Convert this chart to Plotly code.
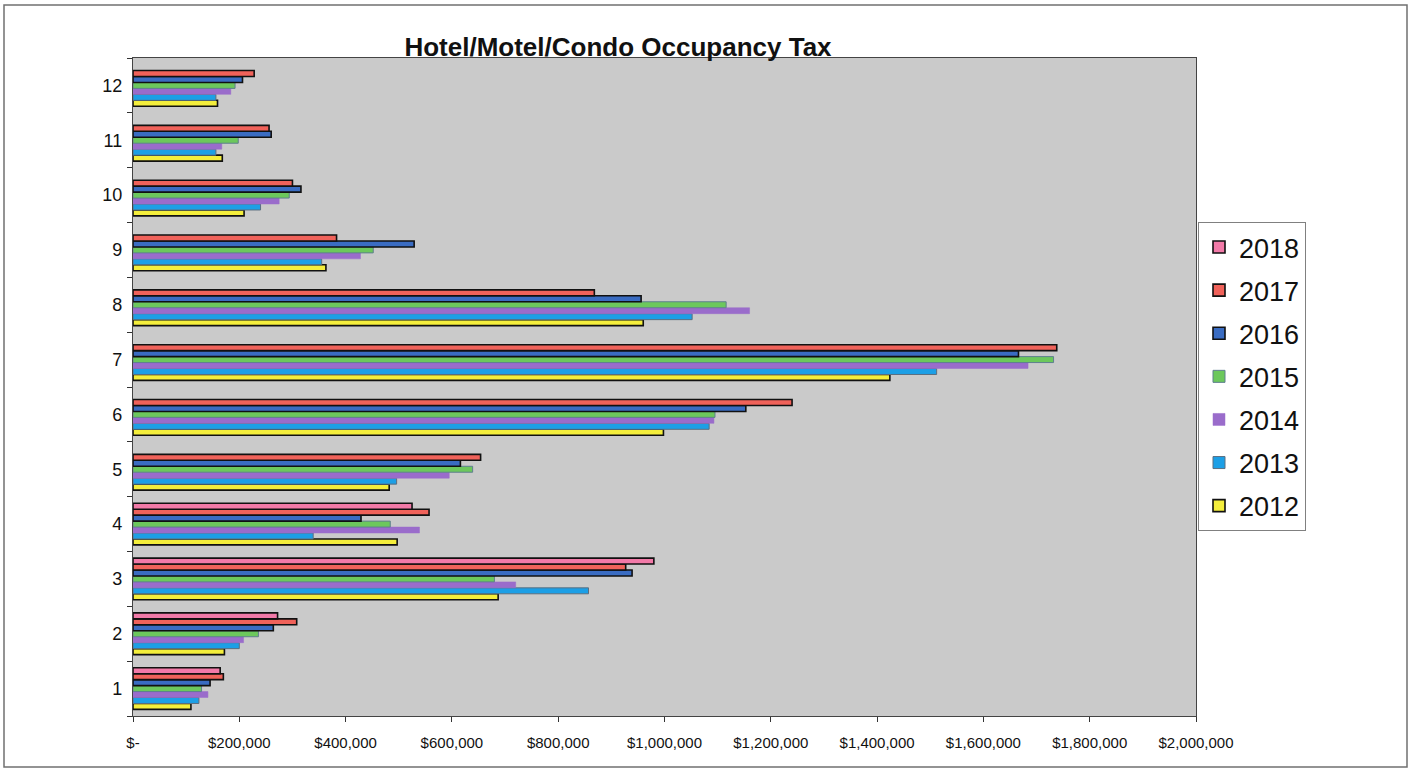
import plotly.graph_objects as go

months = ["1", "2", "3", "4", "5", "6", "7", "8", "9", "10", "11", "12"]

y2012 = [109000, 172000, 687000, 497000, 482000, 998000, 1424000, 960000, 363000, 209000, 168000, 159000]
y2013 = [124000, 200000, 857000, 339000, 496000, 1084000, 1512000, 1052000, 355000, 240000, 156000, 156000]
y2014 = [141000, 208000, 720000, 539000, 595000, 1093000, 1684000, 1160000, 428000, 275000, 167000, 184000]
y2015 = [129000, 236000, 680000, 484000, 639000, 1095000, 1732000, 1116000, 452000, 294000, 198000, 192000]
y2016 = [145000, 264000, 939000, 429000, 616000, 1153000, 1666000, 956000, 529000, 316000, 260000, 206000]
y2017 = [170000, 308000, 927000, 557000, 654000, 1240000, 1738000, 868000, 383000, 300000, 256000, 228000]
y2018 = [164000, 272000, 980000, 525000, None, None, None, None, None, None, None, None]

x_tickvals = [0, 200000, 400000, 600000, 800000, 1000000, 1200000, 1400000, 1600000, 1800000, 2000000]
x_ticktext = ["$-", "$200,000", "$400,000", "$600,000", "$800,000", "$1,000,000",
              "$1,200,000", "$1,400,000", "$1,600,000", "$1,800,000", "$2,000,000"]

series = [
    ("2012", y2012, "#f4ee3c", "#111111", 1.6),
    ("2013", y2013, "#1c9fe6", "#5b6f80", 1.0),
    ("2014", y2014, "#9a6ccb", "#9a6ccb", 0.5),
    ("2015", y2015, "#6cc85c", "#5f7f8f", 1.0),
    ("2016", y2016, "#3a6cc2", "#111111", 1.6),
    ("2017", y2017, "#f0625a", "#111111", 1.6),
    ("2018", y2018, "#f27aa8", "#111111", 1.6),
]

fig = go.Figure()
n = len(series)
for i, (name, vals, col, lcol, lw) in enumerate(series):
    fig.add_trace(go.Bar(
        y=months, x=vals, name=name, orientation="h",
        legendgroup=name,
        legendrank=n - i,
        marker=dict(color=col, line=dict(color=lcol, width=lw)),
    ))

L, R, T, B = 133, 215, 58, 56
W, H = 1411, 772
pw = W - L - R
ph = H - T - B

fig.update_layout(
    width=W, height=H,
    margin=dict(l=L, r=R, t=T, b=B),
    paper_bgcolor="white",
    plot_bgcolor="#cacaca",
    barmode="group",
    bargap=0.24,
    bargroupgap=0,
    font=dict(family="Liberation Sans, Arial, sans-serif", color="#111111"),
    title=dict(
        text="<b>Hotel/Motel/Condo Occupancy Tax</b>",
        x=(618 - L) / pw, xref="paper", xanchor="center",
        y=1 - 47 / H, yref="container", yanchor="middle",
        font=dict(size=26, color="#111111"),
    ),
    legend=dict(
        x=(1198 - L) / pw, xanchor="left",
        y=(H - B - 222) / ph, yanchor="top",
        traceorder="grouped",
        tracegroupgap=5,
        bgcolor="white",
        bordercolor="#808080", borderwidth=1,
        font=dict(size=27, color="#111111"),
        itemwidth=30,
    ),
    showlegend=True,
    xaxis=dict(
        range=[0, 2000000],
        tickvals=x_tickvals, ticktext=x_ticktext,
        ticks="outside", ticklen=5, tickcolor="#333333",
        showgrid=False, zeroline=False,
        showline=True, linecolor="#444444", linewidth=1.2, mirror=True,
        tickfont=dict(size=15, family="Liberation Sans Narrow, Arial Narrow, Liberation Sans, Arial"),
        ticklabelstandoff=8,
    ),
    yaxis=dict(
        type="category",
        categoryorder="array", categoryarray=months,
        ticks="outside", ticklen=5, tickcolor="#333333",
        tickson="boundaries",
        showgrid=False, zeroline=False,
        showline=True, linecolor="#444444", linewidth=1.2, mirror=True,
        tickfont=dict(size=18),
        ticklabelstandoff=6,
    ),
)

# outer chart border
fig.add_shape(
    type="rect", xref="paper", yref="paper",
    x0=(4 - L) / pw, x1=(1407 - L) / pw,
    y0=(H - B - 767) / ph, y1=(H - B - 5) / ph,
    line=dict(color="#707070", width=1.5),
    fillcolor="rgba(0,0,0,0)",
)

fig.write_html("out.html")
